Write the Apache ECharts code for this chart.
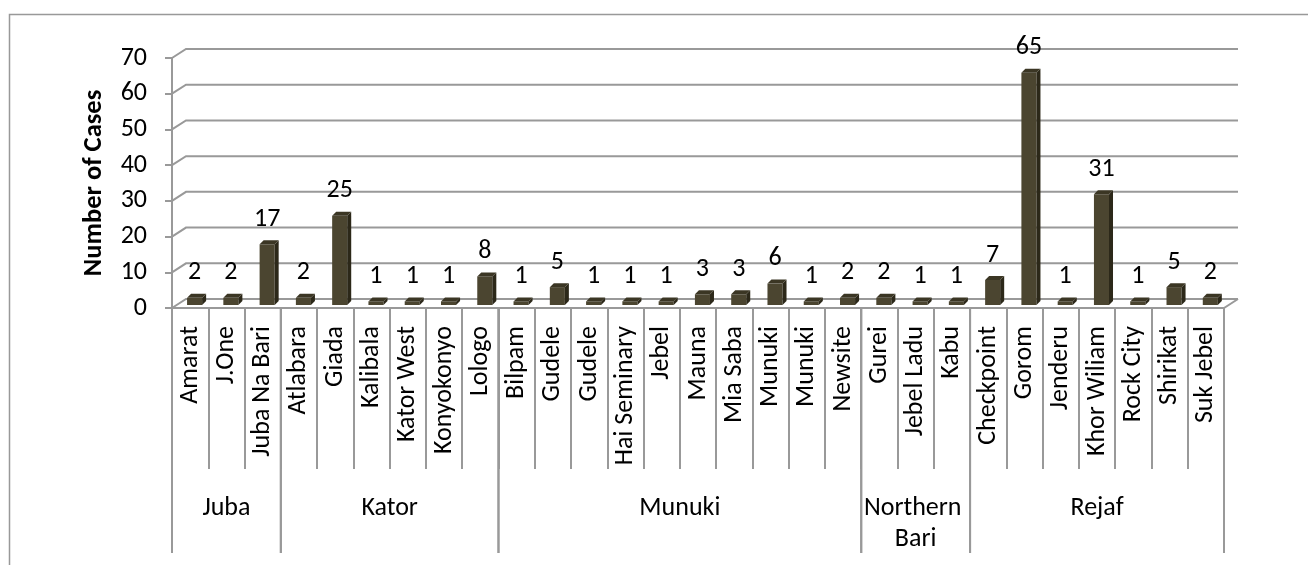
<!DOCTYPE html>
<html>
<head>
<meta charset="utf-8">
<script src="https://cdn.jsdelivr.net/npm/echarts@6/dist/echarts.min.js"></script>
<style>
  html, body { margin: 0; padding: 0; background: #fff; }
  #chart { width: 1308px; height: 565px; }
</style>
</head>
<body>
<div id="chart"></div>
<script>
// Cases per location, grouped by payam
const categories = [
  'Amarat', 'J.One', 'Juba Na Bari',
  'Atlabara', 'Giada', 'Kalibala', 'Kator West', 'Konyokonyo', 'Lologo',
  'Bilpam', 'Gudele', 'Gudele', 'Hai Seminary', 'Jebel', 'Mauna', 'Mia Saba', 'Munuki', 'Munuki', 'Newsite',
  'Gurei', 'Jebel Ladu', 'Kabu',
  'Checkpoint', 'Gorom', 'Jenderu', 'Khor Wiliam', 'Rock City', 'Shirikat', 'Suk Jebel'
];
const cases = [
  2, 2, 17,
  2, 25, 1, 1, 1, 8,
  1, 5, 1, 1, 1, 3, 3, 6, 1, 2,
  2, 1, 1,
  7, 65, 1, 31, 1, 5, 2
];
const groups = ['Juba', 'Kator', 'Munuki', 'Northern Bari', 'Rejaf'];
const groupSizes = [3, 6, 10, 3, 7];
const yTicks = [0, 10, 20, 30, 40, 50, 60, 70];

const FONT = 'Carlito, Lato, sans-serif';
const FS = 26;
const GRID_COLOR = '#999';
const DX = 14, DY = 9; // depth of the 3D walls

// build [start, end] index pairs for the outer axis level
const groupRanges = [];
let start = 0;
groupSizes.forEach(n => { groupRanges.push([start, start + n - 1]); start += n; });

const chart = echarts.init(document.getElementById('chart'));

// back wall gridlines + floor
function renderWall(params, api) {
  const cs = params.coordSys;
  const v = api.value(1);
  const y = api.coord([0, v])[1];
  const x0 = cs.x, x1 = cs.x + cs.width;
  const children = [{
    type: 'polyline',
    shape: { points: [[x0, y], [x0 + DX, y - DY], [x1 + DX, y - DY]] },
    style: { stroke: GRID_COLOR, lineWidth: 2, fill: null }
  }];
  if (v === 0) {
    children.push({
      type: 'polyline',
      shape: { points: [[x0, y], [x1, y], [x1 + DX, y - DY]] },
      style: { stroke: GRID_COLOR, lineWidth: 2, fill: null }
    });
  }
  return { type: 'group', children: children };
}

// 3D-looking column
function renderBar(params, api) {
  const i = api.value(0), v = api.value(1);
  const base = api.coord([i, 0]);
  const top = api.coord([i, v]);
  const bw = api.size([1, 0])[0];
  const xl = base[0] - bw * 0.085, xr = base[0] + bw * 0.33;
  const yb = base[1] - 3, yt = top[1] - 3;
  const d = 4, dd = 4;
  return {
    type: 'group',
    children: [
      { type: 'rect', shape: { x: xl, y: yt, width: xr - xl, height: yb - yt },
        style: { fill: '#4b4530' } },
      { type: 'polygon', shape: { points: [[xr, yb], [xr, yt], [xr + d, yt - dd], [xr + d, yb - dd]] },
        style: { fill: '#2c2819' } },
      { type: 'polygon', shape: { points: [[xl, yt], [xr, yt], [xr + d, yt - dd], [xl + d, yt - dd]] },
        style: { fill: '#3b3624' } },
      { type: 'text', style: { text: String(v), x: (xl + xr) / 2, y: yt - 25,
        align: 'center', verticalAlign: 'middle', font: FS + 'px ' + FONT, fill: '#000' } }
    ]
  };
}

// outer category level (payam names) with divider lines
function renderGroup(params, api) {
  const bw = api.size([1, 0])[0];
  const a = api.coord([api.value(0), 0]);
  const b = api.coord([api.value(1), 0]);
  const x0 = a[0] - bw / 2, x1 = b[0] + bw / 2;
  const y = a[1];
  return {
    type: 'group',
    children: [
      { type: 'line', shape: { x1: x0, y1: y, x2: x0, y2: y + 245 }, style: { stroke: GRID_COLOR, lineWidth: 2 } },
      { type: 'line', shape: { x1: x1, y1: y, x2: x1, y2: y + 245 }, style: { stroke: GRID_COLOR, lineWidth: 2 } },
      { type: 'text', style: { text: groups[params.dataIndex], x: (x0 + x1) / 2, y: y + 185,
        width: x1 - x0 - 4, overflow: 'break', lineHeight: 31,
        align: 'center', verticalAlign: 'top', font: FS + 'px ' + FONT, fill: '#000' } }
    ]
  };
}

chart.setOption({
  animation: false,
  grid: { left: 172, right: 84, top: 58, bottom: 257 },
  graphic: [{
    type: 'rect', left: 7, top: 12, silent: true,
    shape: { width: 1300, height: 600 },
    style: { fill: null, stroke: '#999', lineWidth: 1.5 }
  }],
  xAxis: {
    type: 'category',
    data: categories,
    axisLine: { show: false },
    axisTick: { show: true, interval: 0, length: 161, lineStyle: { color: GRID_COLOR, width: 2 } },
    axisLabel: { interval: 0, rotate: 90, margin: 18, fontSize: FS, fontFamily: FONT, color: '#000' }
  },
  yAxis: {
    type: 'value',
    min: 0, max: 70, interval: 10,
    name: 'Number of Cases',
    nameLocation: 'middle',
    nameGap: 64,
    nameTextStyle: { fontSize: 26.5, fontWeight: 'bold', fontFamily: FONT, color: '#000' },
    axisLine: { show: true, lineStyle: { color: GRID_COLOR, width: 2 } },
    axisTick: { show: true, length: 7, lineStyle: { color: GRID_COLOR, width: 2 } },
    axisLabel: { margin: 25, fontSize: FS, fontFamily: FONT, color: '#000' },
    splitLine: { show: false }
  },
  series: [
    {
      type: 'custom', name: 'walls', silent: true, clip: false, z: 1,
      renderItem: renderWall,
      data: yTicks.map(t => [0, t])
    },
    {
      type: 'custom', name: 'Cases', clip: false, z: 3,
      renderItem: renderBar,
      data: cases.map((v, i) => [i, v])
    },
    {
      type: 'custom', name: 'groups', silent: true, clip: false, z: 2,
      renderItem: renderGroup,
      data: groupRanges
    }
  ]
});
</script>
</body>
</html>
